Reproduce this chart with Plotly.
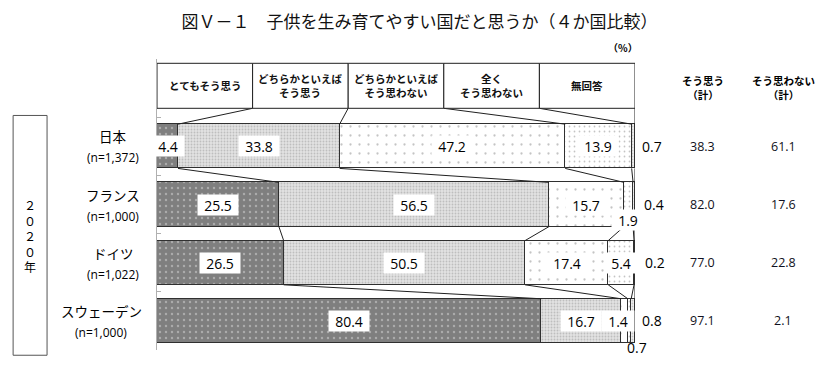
import plotly.graph_objects as go

countries = ["日本", "フランス", "ドイツ", "スウェーデン"]
sample_n = ["(n=1,372)", "(n=1,000)", "(n=1,022)", "(n=1,000)"]
series_names = ["とてもそう思う", "どちらかといえば<br>そう思う", "どちらかといえば<br>そう思わない",
                "全く<br>そう思わない", "無回答"]
very_agree = [4.4, 25.5, 26.5, 80.4]
somewhat_agree = [33.8, 56.5, 50.5, 16.7]
somewhat_disagree = [47.2, 15.7, 17.4, 1.4]
strongly_disagree = [13.9, 1.9, 5.4, 0.7]
no_answer = [0.7, 0.4, 0.2, 0.8]
agree_total = ["38.3", "82.0", "77.0", "97.1"]
disagree_total = ["61.1", "17.6", "22.8", "2.1"]

series = [very_agree, somewhat_agree, somewhat_disagree, strongly_disagree, no_answer]
labels_txt = [[f"{v:.1f}" for v in s] for s in series]

JP = "Noto Sans CJK JP"
NUM = "Open Sans"
BAR_W = 0.76
HALF = BAR_W / 2
HEAD_TOP, HEAD_BOT = -1.426, -0.653
Y0, Y1 = -1.5, 3.5
COUNTRY_LABEL_X = [-9.2, -9.2, -9.2, -11.7]
AGREE_COL_X, DISAGREE_COL_X = 114.2, 131.0


def py(v):
    return (Y1 - v) / (Y1 - Y0)


def px(v):
    return v / 100.0


def ann(x, y, text, font, **kw):
    d = dict(x=px(x), y=py(y), xref="paper", yref="paper", text=text, showarrow=False,
             xanchor="center", yanchor="middle", font=font)
    d.update(kw)
    return d


patterns = [
    dict(shape=".", bgcolor="#7f7f7f", fgcolor="#d8d8d8", size=6, solidity=0.12),
    dict(shape=".", bgcolor="#e2e2e2", fgcolor="#9a9a9a", size=3, solidity=0.3),
    dict(shape=".", bgcolor="#ffffff", fgcolor="#8a8a8a", size=9, solidity=0.05),
    dict(shape=".", bgcolor="#ffffff", fgcolor="#8a8a8a", size=5, solidity=0.1),
    dict(shape=".", bgcolor="#f0f0f0", fgcolor="#9a9a9a", size=3, solidity=0.3),
]

ypos = list(range(len(countries)))
fig = go.Figure()
for i, s in enumerate(series):
    fig.add_trace(go.Bar(
        x=s, y=ypos, orientation="h", width=BAR_W,
        marker=dict(color=patterns[i]["bgcolor"], pattern=patterns[i],
                    line=dict(color="#303030", width=1)),
        showlegend=False, hoverinfo="skip"))

cums = []
for r in range(len(countries)):
    c, acc = [], 0
    for s in series:
        acc += s[r]
        c.append(acc)
    cums.append(c)

cx, cy = [], []
for k in range(len(series)):
    cx += [20 * (k + 1), cums[0][k], None]
    cy += [HEAD_BOT, -HALF, None]
for r in range(len(countries) - 1):
    for k in range(len(series)):
        cx += [cums[r][k], cums[r + 1][k], None]
        cy += [r + HALF, r + 1 - HALF, None]
fig.add_trace(go.Scatter(x=cx, y=cy, mode="lines", line=dict(color="#202020", width=1),
                         showlegend=False, hoverinfo="skip"))

shapes = []
annotations = []
for k, name in enumerate(series_names):
    shapes.append(dict(type="rect", xref="x", yref="y", x0=20 * k, x1=20 * (k + 1),
                       y0=HEAD_TOP, y1=HEAD_BOT, line=dict(color="#202020", width=1),
                       fillcolor="white", layer="above"))
    annotations.append(ann(20 * k + 10, (HEAD_TOP + HEAD_BOT) / 2, name,
                           dict(family=JP, size=10.5, color="#111", weight="bold")))

# label placement for small segments: (row, series) -> (x, y, xshift, white box)
placement = {
    (0, 4): (103.6, 0, 0, False),
    (1, 3): (98.6, 1.27, 0, True),
    (1, 4): (104.0, 1, 0, False),
    (2, 4): (104.2, 2, 0, False),
    (3, 2): (None, 3, -6, True),
    (3, 3): (100.4, 3.45, 0, False),
    (3, 4): (103.6, 3, 0, False),
}
for r in range(len(countries)):
    for k in range(len(series)):
        start = cums[r][k] - series[k][r]
        cx_ = (start + cums[r][k]) / 2
        cy_ = r
        xs = 0
        boxed = True
        if (r, k) in placement:
            p_x, p_y, xs, boxed = placement[(r, k)]
            if p_x is not None:
                cx_ = p_x
            cy_ = p_y
        t = labels_txt[k][r]
        extra = dict(width=len(t) * 8 + 6, height=18, bgcolor="white", borderpad=1) if boxed else {}
        annotations.append(ann(cx_, cy_, t, dict(family=NUM, size=14, color="black"),
                               xshift=xs, **extra))

for r, (c, n) in enumerate(zip(countries, sample_n)):
    annotations.append(ann(COUNTRY_LABEL_X[r], r - 0.17, c, dict(family=JP, size=13.5, color="black")))
    annotations.append(ann(COUNTRY_LABEL_X[r], r + 0.2, n, dict(family=NUM, size=12, color="black")))
    annotations.append(ann(AGREE_COL_X, r, agree_total[r], dict(family=NUM, size=12.5, color="#101020")))
    annotations.append(ann(DISAGREE_COL_X, r, disagree_total[r], dict(family=NUM, size=12.5, color="#101020")))

annotations.append(ann(AGREE_COL_X, -1.005, "そう思う<br>（計）",
                       dict(family=JP, size=10.5, color="black", weight="bold")))
annotations.append(ann(DISAGREE_COL_X, -1.005, "そう思わない<br>（計）",
                       dict(family=JP, size=10.5, color="black", weight="bold")))
annotations.append(ann(97.5, -1.7, "（%）", dict(family=JP, size=10, color="black", weight="bold")))
shapes.append(dict(type="rect", xref="paper", yref="paper", x0=px(-30.1), x1=px(-23.0),
                   y0=py(3.59), y1=py(-0.53), line=dict(color="#555", width=1),
                   fillcolor="rgba(0,0,0,0)"))
annotations.append(ann(-26.55, 1.53, "２<br>０<br>２<br>０<br>年",
                       dict(family=JP, size=12, color="black")))

fig.update_layout(
    width=839, height=368,
    margin=dict(l=157, r=204, t=58.7, b=18.3),
    barmode="stack", bargap=0,
    paper_bgcolor="white", plot_bgcolor="white",
    title=dict(text="図Ｖ－１　子供を生み育てやすい国だと思うか（４か国比較）", x=0.5, xanchor="center",
               y=0.94, yanchor="middle", font=dict(family=JP, size=17, color="#111")),
    xaxis=dict(range=[0, 100], visible=False, fixedrange=True),
    yaxis=dict(range=[Y1, Y0], showline=True, linecolor="#b0b0b0", linewidth=1,
               ticks="inside", ticklen=4, tickcolor="#b0b0b0",
               tickvals=[-1.5, -0.5, 0.5, 1.5, 2.5, 3.5], showticklabels=False,
               showgrid=False, zeroline=False, fixedrange=True),
    shapes=shapes, annotations=annotations,
)
fig.write_html("out.html", config={"displayModeBar": False},
               post_script="document.body.style.margin='0';")
